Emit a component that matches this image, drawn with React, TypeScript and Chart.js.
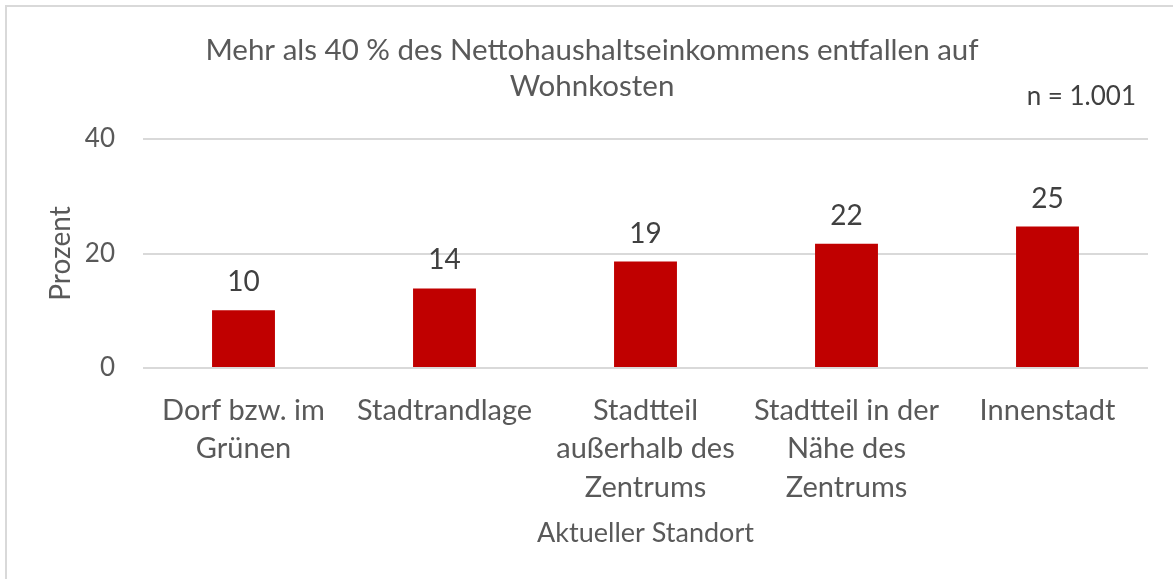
import React, { useEffect, useRef } from "react";
import { Chart, registerables } from "chart.js";

Chart.register(...registerables);

const categories: string[][] = [
  ["Dorf bzw. im", "Grünen"],
  ["Stadtrandlage"],
  ["Stadtteil", "außerhalb des", "Zentrums"],
  ["Stadtteil in der", "Nähe des", "Zentrums"],
  ["Innenstadt"],
];
const values: number[] = [10.1, 13.9, 18.6, 21.7, 24.7];
const titleLines: string[] = ["Mehr als 40 % des Nettohaushaltseinkommens entfallen auf", "Wohnkosten"];
const sampleNote = "n = 1.001";
const yTitle = "Prozent";
const xTitle = "Aktueller Standort";
const yTicks: number[] = [0, 20, 40];

const FONT = "Lato, 'Open Sans', sans-serif";
const TEXT = "#595959";

export default function App() {
  const ref = useRef<HTMLCanvasElement | null>(null);
  useEffect(() => {
    document.body.style.margin = "0";
    const canvas = ref.current!;
    const decor = {
      id: "decor",
      beforeDraw(chart: any) {
        const ctx = chart.ctx;
        ctx.save();
        ctx.strokeStyle = "#d9d9d9";
        ctx.lineWidth = 2;
        ctx.beginPath();
        ctx.moveTo(6, 579);
        ctx.lineTo(6, 6);
        ctx.lineTo(1173, 6);
        ctx.stroke();
        ctx.restore();
      },
      afterDraw(chart: any) {
        const ctx = chart.ctx;
        ctx.save();
        ctx.fillStyle = TEXT;
        ctx.textBaseline = "middle";
        ctx.font = `29.5px ${FONT}`;
        ctx.textAlign = "center";
        ctx.fillText(titleLines[0], 592, 50);
        ctx.fillText(titleLines[1], 592, 86);
        ctx.textAlign = "right";
        ctx.font = `26px ${FONT}`;
        ctx.fillStyle = "#404040";
        ctx.fillText(sampleNote, 1136, 97);
        // data labels
        const meta = chart.getDatasetMeta(0);
        ctx.textAlign = "center";
        ctx.font = `28px ${FONT}`;
        ctx.fillStyle = "#404040";
        meta.data.forEach((bar: any, i: number) => {
          ctx.fillText(String(Math.round(values[i])), bar.x, bar.y - 28);
        });
        ctx.restore();
      },
    };
    const chart = new Chart(canvas, {
      type: "bar",
      data: {
        labels: categories,
        datasets: [
          {
            data: values,
            backgroundColor: "#C00000",
            borderWidth: 0,
            categoryPercentage: 1,
            barPercentage: 0.313,
          },
        ],
      },
      options: {
        animation: false,
        responsive: false,
        layout: { padding: { left: 40, right: 25, top: 139, bottom: 29 } },
        plugins: {
          legend: { display: false },
          tooltip: { enabled: false },
          title: { display: false },
        },
        scales: {
          x: {
            grid: { display: false, drawTicks: false },
            border: { display: false },
            ticks: {
              color: TEXT,
              padding: 23,
              maxRotation: 0,
              autoSkip: false,
              font: { family: FONT, size: 29, lineHeight: 1.33 },
            },
            title: {
              display: true,
              text: xTitle,
              color: TEXT,
              padding: { top: 0, bottom: 1 },
              font: { family: FONT, size: 27, lineHeight: 1.2 },
            },
            afterFit(s: any) {
              s.height = 182;
            },
          },
          y: {
            min: 0,
            max: 40,
            afterBuildTicks(s: any) {
              s.ticks = yTicks.map((v) => ({ value: v }));
            },
            grid: { color: "#d9d9d9", lineWidth: 2, drawTicks: false },
            border: { display: false },
            ticks: {
              color: TEXT,
              padding: 28,
              font: { family: FONT, size: 26 },
            },
            title: {
              display: true,
              text: yTitle,
              color: TEXT,
              padding: { top: 4, bottom: 0 },
              font: { family: FONT, size: 28, lineHeight: 1.2 },
            },
            afterFit(s: any) {
              s.width = 103;
            },
          },
        },
      },
      plugins: [decor],
    });
    return () => chart.destroy();
  }, []);
  return (
    <div style={{ width: 1173, height: 579 }}>
      <canvas ref={ref} width={1173} height={579} style={{ display: "block" }} />
    </div>
  );
}
